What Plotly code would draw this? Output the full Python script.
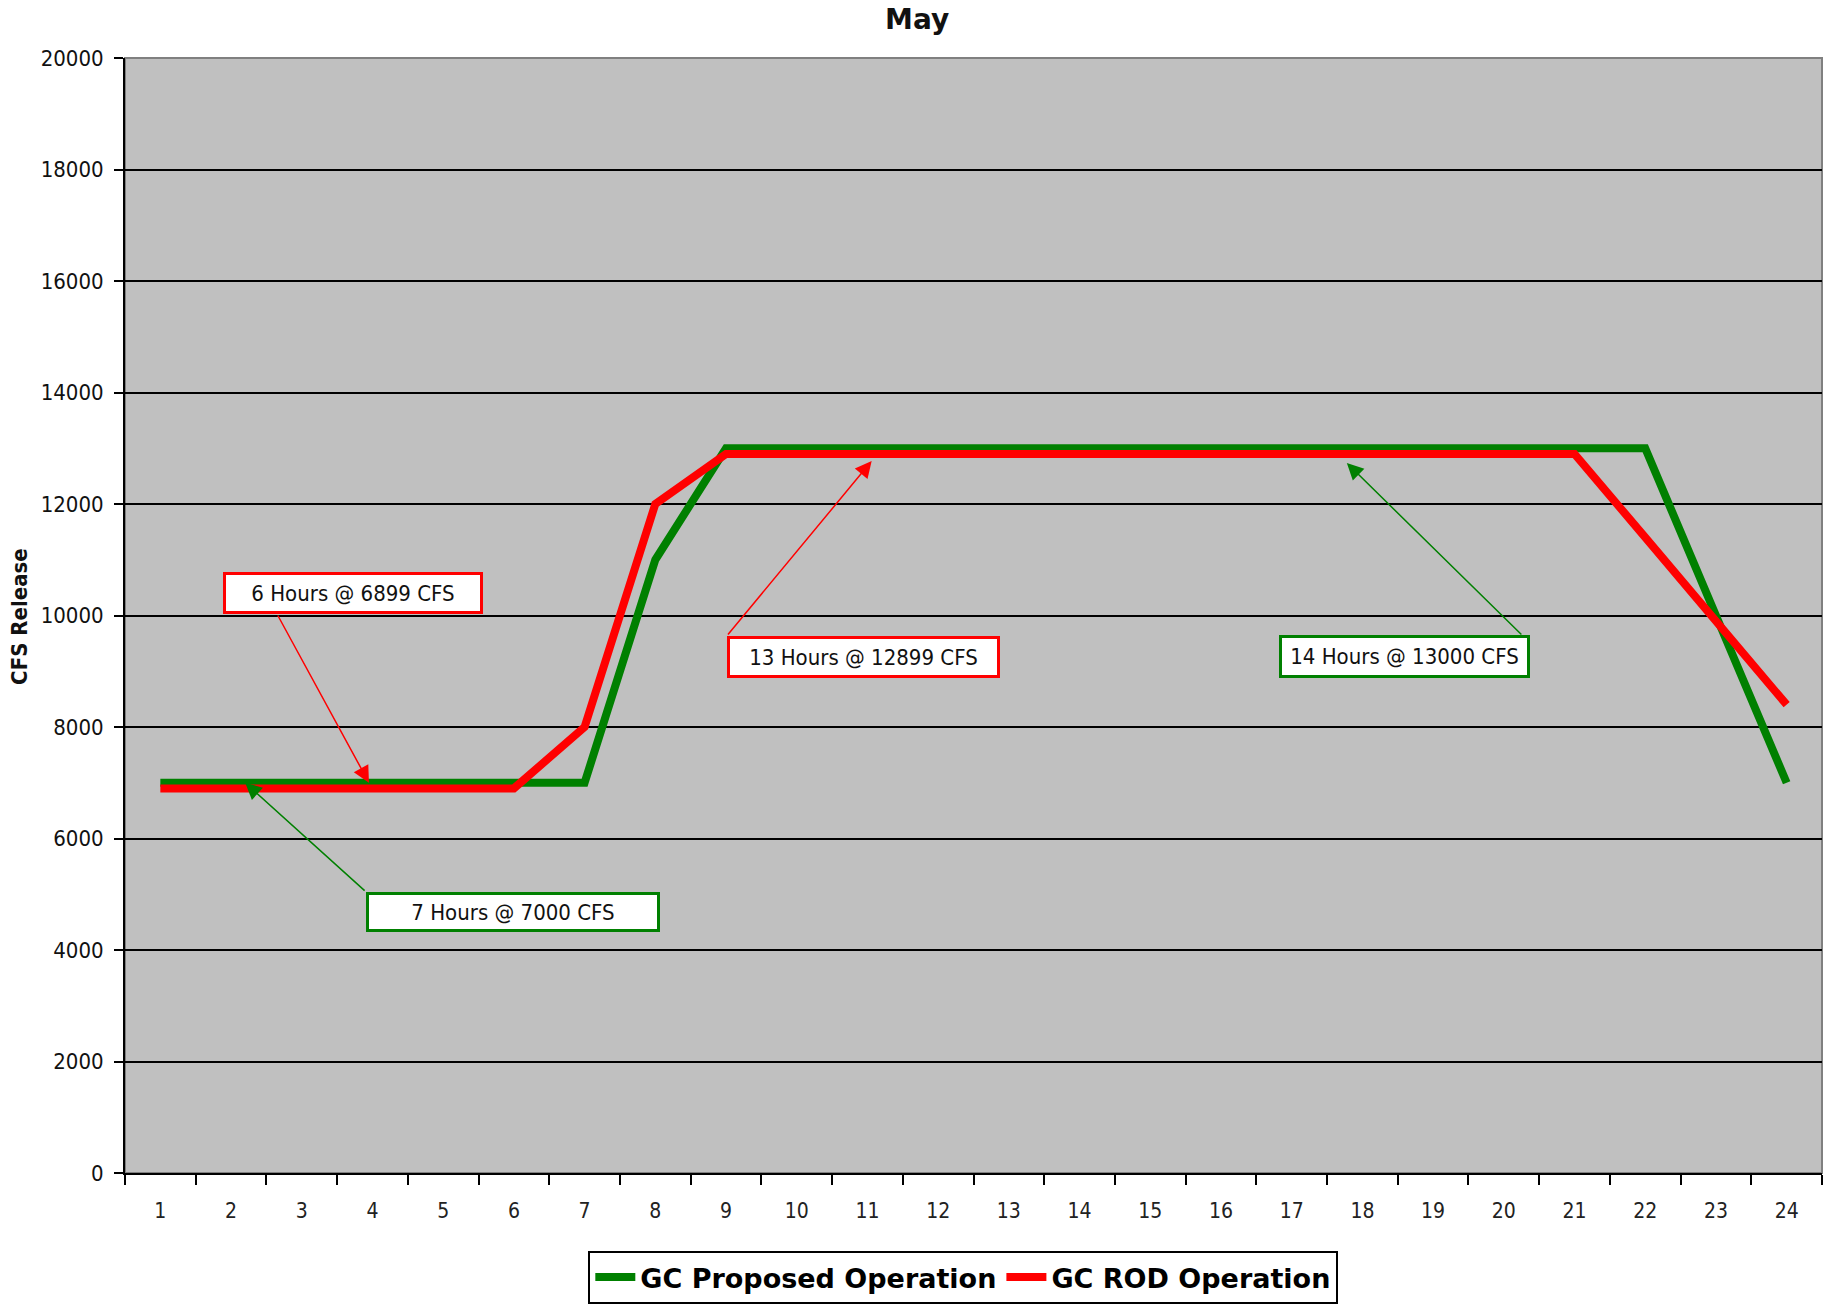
import plotly.graph_objects as go

# Hourly release schedule for May (hour of day -> cubic feet per second)
hours = [1, 2, 3, 4, 5, 6, 7, 8, 9, 10, 11, 12, 13, 14, 15, 16, 17, 18, 19, 20, 21, 22, 23, 24]
hour_labels = [str(h) for h in hours]
proposed_cfs = [7000, 7000, 7000, 7000, 7000, 7000, 7000, 11000, 13000, 13000, 13000, 13000,
                13000, 13000, 13000, 13000, 13000, 13000, 13000, 13000, 13000, 13000, 10000, 7000]
rod_cfs = [6899, 6899, 6899, 6899, 6899, 6899, 8000, 12000, 12899, 12899, 12899, 12899,
           12899, 12899, 12899, 12899, 12899, 12899, 12899, 12899, 12899, 11400, 9900, 8400]
y_ticks = [0, 2000, 4000, 6000, 8000, 10000, 12000, 14000, 16000, 18000, 20000]
y_tick_labels = [str(v) for v in y_ticks]

GREEN = "#008000"
RED = "#FF0000"
FONT = "DejaVu Sans Condensed, Liberation Sans, sans-serif"

# Callout boxes: text, centre (hour, cfs), size (px), colour, arrow tail and tip (hour, cfs)
callouts = [
    ("6 Hours @ 6899 CFS", 3.72, 10404, 260, 42, RED, (2.65, 10027), (3.95, 7000)),
    ("7 Hours @ 7000 CFS", 5.99, 4682, 294, 40, GREEN, (3.91, 5040), (2.20, 7000)),
    ("13 Hours @ 12899 CFS", 10.94, 9256, 273, 42, RED, (9.01, 9632), (11.06, 12771)),
    ("14 Hours @ 13000 CFS", 18.60, 9256, 251, 43, GREEN, (20.27, 9632), (17.78, 12735)),
]

fig = go.Figure()
fig.add_trace(go.Scatter(x=hours, y=proposed_cfs, mode="lines", name="<b>GC Proposed Operation</b>",
                         line=dict(color=GREEN, width=8)))
fig.add_trace(go.Scatter(x=hours, y=rod_cfs, mode="lines", name="<b>GC ROD Operation</b>",
                         line=dict(color=RED, width=8)))

annotations = []
for text, cx, cy, w, h, col, tail, tip in callouts:
    # thin arrow from the box corner to the line
    annotations.append(dict(x=tip[0], y=tip[1], ax=tail[0], ay=tail[1], xref="x", yref="y",
                            axref="x", ayref="y", text="", showarrow=True, arrowhead=2,
                            arrowsize=2.2, arrowwidth=1.5, arrowcolor=col, standoff=0,
                            startstandoff=0))
    # boxed label
    annotations.append(dict(x=cx, y=cy, xref="x", yref="y", text=text, showarrow=False,
                            width=w - 6, height=h - 6, bgcolor="white", bordercolor=col,
                            borderwidth=3, borderpad=0,
                            font=dict(family=FONT, size=22, color="#111")))

# Y-axis title
annotations.append(dict(x=(20 - 125) / 1697, y=(1173 - 526 * 1.1728) / 1115,
                        xref="paper", yref="paper", text="<b>CFS Release</b>",
                        xanchor="center", yanchor="middle", showarrow=False, textangle=-90,
                        font=dict(family=FONT, size=22, color="#111")))

fig.update_layout(
    width=1839, height=1306,
    margin=dict(l=125, r=17, t=58, b=133, autoexpand=False),
    paper_bgcolor="white",
    plot_bgcolor="#C0C0C0",
    title=dict(text="<b>May</b>", x=0.4987, xanchor="center", y=0.985, yanchor="middle",
               font=dict(family="DejaVu Sans, sans-serif", size=28, color="#111")),
    showlegend=True,
    legend=dict(orientation="h", x=0.494, xanchor="center", yref="container",
                y=(1306 - 1251) / 1306, yanchor="top",
                bgcolor="white", bordercolor="black", borderwidth=2,
                font=dict(family="DejaVu Sans, sans-serif", size=27, color="black"),
                itemwidth=40, tracegroupgap=0),
    annotations=annotations,
)

fig.update_xaxes(
    range=[0.5, 24.5], tickvals=hours, ticktext=hour_labels, ticks="",
    showgrid=False, zeroline=False, showline=True, linecolor="black", linewidth=2,
    ticklabelstandoff=18,
    tickfont=dict(family=FONT, size=21, color="#222"),
    minor=dict(tickvals=[h - 0.5 for h in hours] + [24.5], ticks="outside", ticklen=10,
               tickwidth=2, tickcolor="black", showgrid=False),
)
fig.update_yaxes(
    range=[0, 20000], tickvals=y_ticks, ticktext=y_tick_labels, ticks="outside", ticklen=9,
    tickwidth=2, tickcolor="black", showgrid=True, gridcolor="black", gridwidth=2,
    zeroline=False, showline=True, linecolor="black", linewidth=2, ticklabelstandoff=6,
    tickfont=dict(family=FONT, size=22, color="#111"),
)

# grey frame on the top and right edges of the plot area
fig.add_shape(type="rect", xref="paper", yref="paper", x0=0, y0=0, x1=1, y1=1,
              line=dict(color="#808080", width=2), layer="below")

fig.write_html("out.html")
